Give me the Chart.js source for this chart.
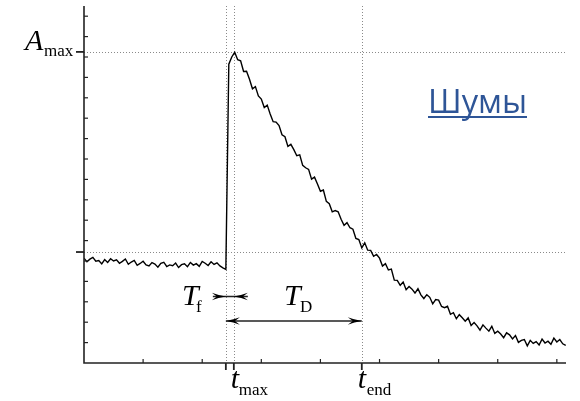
<!DOCTYPE html>
<html><head><meta charset="utf-8">
<script src="https://cdn.jsdelivr.net/npm/chart.js@4/dist/chart.umd.min.js"></script>
<style>html,body{margin:0;padding:0;background:#fff;overflow:hidden}</style>
</head><body>
<canvas id="c" width="580" height="401"></canvas>
<script>
// ---- data ----
// signal sampled at unit time steps (time = sample index)
const signalBase = [51.4,49.6,50.9,51.8,49.9,50.2,48.6,50.7,49.3,51.1,50.0,50.6,48.9,49.8,51.0,48.4,49.5,50.3,47.9,48.8,
  49.9,48.1,47.6,49.2,48.5,47.0,48.9,49.4,47.3,48.1,47.7,49.0,46.8,48.2,48.6,47.2,49.3,48.0,48.7,47.4,
  49.8,48.9,47.8,49.6,48.3,49.1,47.6,46.6,45.9];
const signalPeak = [146.5,150.0,152.3];
const signalDecay = [148.7,148.1,142.9,143.0,139.1,134.4,135.5,130.9,129.4,125.2,126.4,122.1,118.3,118.1,116.4,111.9,
  110.9,106.2,107.2,104.6,101.6,102.0,96.9,95.7,94.9,90.1,91.1,87.7,84.2,84.8,79.2,78.1,74.1,74.7,74.1,70.5,
  67.5,68.8,66.3,65.6,61.1,60.5,56.4,58.9,55.3,55.2,52.3,53.2,51.4,47.5,48.7,45.6,46.0,40.6,40.5,38.1,
  39.7,35.9,37.5,36.2,34.3,36.4,33.4,31.6,33.5,32.2,29.0,31.1,30.8,27.7,27.1,27.8,23.9,24.7,21.7,23.7,
  22.2,20.5,22.1,18.4,19.8,18.2,16.1,18.7,17.1,15.6,18.0,14.5,15.6,14.2,12.4,14.8,13.8,11.8,13.5,10.1,
  11.1,11.5,8.4,11.1,9.6,10.5,8.8,11.7,9.8,10.7,9.2,12.2,10.3,11.5,9.4,8.6];
const refLevels = [152.5, 54.4];          // A_max, baseline
const refTimes = [48, 50.7, 94];          // rise start, t_max, t_end
const yLabels = ['A', 'max'];
const xLabels = [['t','max'], ['t','end']];
const spanLabels = [['T','f'], ['T','D']];
const noteText = 'Шумы';
const xMax = 163.1, yMax = 175, xMinor = 20, yMinor = 10;

const signal = signalBase.concat(signalPeak, signalDecay);
const points = signal.map((v, i) => ({x: i, y: v}));

function arrowHead(ctx, tipX, y, dir) { // dir: +1 points right, -1 points left
  const L = 14, W = 3.8, back = 9;
  ctx.beginPath();
  ctx.moveTo(tipX, y);
  ctx.quadraticCurveTo(tipX - dir * L * 0.55, y - W * 0.35, tipX - dir * L, y - W);
  ctx.lineTo(tipX - dir * back, y);
  ctx.lineTo(tipX - dir * L, y + W);
  ctx.quadraticCurveTo(tipX - dir * L * 0.55, y + W * 0.35, tipX, y);
  ctx.closePath();
  ctx.fill();
}

const decor = {
  id: 'decor',
  beforeDatasetsDraw(chart) {
    const {ctx, chartArea: a, scales: {x, y}} = chart;
    ctx.save();
    ctx.strokeStyle = '#8a8a8a';
    ctx.lineWidth = 1;
    ctx.setLineDash([1, 2]);
    refLevels.forEach(v => {
      const py = Math.round(y.getPixelForValue(v)) + 0.5;
      ctx.beginPath(); ctx.moveTo(a.left, py); ctx.lineTo(a.right, py); ctx.stroke();
    });
    refTimes.forEach(v => {
      const px = Math.round(x.getPixelForValue(v)) + 0.5;
      ctx.beginPath(); ctx.moveTo(px, a.top); ctx.lineTo(px, a.bottom); ctx.stroke();
    });
    ctx.restore();
  },
  afterDatasetsDraw(chart) {
    const {ctx, chartArea: a, scales: {x, y}} = chart;
    ctx.save();
    ctx.strokeStyle = '#222';
    ctx.fillStyle = '#000';
    ctx.lineWidth = 1.6;
    ctx.beginPath();
    ctx.moveTo(a.left, a.top); ctx.lineTo(a.left, a.bottom); ctx.lineTo(a.right, a.bottom);
    ctx.stroke();
    ctx.lineWidth = 1.2;
    for (let v = yMinor; v < yMax; v += yMinor) {
      const py = y.getPixelForValue(v);
      ctx.beginPath(); ctx.moveTo(a.left, py); ctx.lineTo(a.left + 4, py); ctx.stroke();
    }
    for (let v = xMinor; v < xMax; v += xMinor) {
      const px = x.getPixelForValue(v);
      ctx.beginPath(); ctx.moveTo(px, a.bottom); ctx.lineTo(px, a.bottom - 4); ctx.stroke();
    }
    ctx.lineWidth = 1.8;
    refLevels.forEach(v => {
      const py = y.getPixelForValue(v);
      ctx.beginPath(); ctx.moveTo(a.left - 8, py); ctx.lineTo(a.left, py); ctx.stroke();
    });
    refTimes.forEach(v => {
      const px = x.getPixelForValue(v);
      ctx.beginPath(); ctx.moveTo(px, a.bottom); ctx.lineTo(px, a.bottom + 7); ctx.stroke();
    });
    const serif = '"Liberation Serif", "Times New Roman", serif';
    const big = 'italic 30px ' + serif, small = '17px ' + serif;
    ctx.fillStyle = '#000';
    ctx.textBaseline = 'alphabetic';
    ctx.textAlign = 'left';
    const yA = y.getPixelForValue(refLevels[0]);
    ctx.font = big; ctx.fillText(yLabels[0], 25, yA - 2);
    ctx.font = small; ctx.fillText(yLabels[1], 44, yA + 4);
    const pm = x.getPixelForValue(refTimes[1]), pe = x.getPixelForValue(refTimes[2]);
    ctx.font = big; ctx.fillText(xLabels[0][0], pm - 3, 388);
    ctx.font = small; ctx.fillText(xLabels[0][1], pm + 5, 395);
    ctx.font = big; ctx.fillText(xLabels[1][0], pe - 4, 388);
    ctx.font = small; ctx.fillText(xLabels[1][1], pe + 5, 395);
    const pr = x.getPixelForValue(refTimes[0]);
    ctx.lineWidth = 1.3;
    const yf = 296.5, yd = 321;
    ctx.beginPath(); ctx.moveTo(pr - 13, yf); ctx.lineTo(pm + 14, yf); ctx.stroke();
    arrowHead(ctx, pr, yf, 1);
    arrowHead(ctx, pm, yf, -1);
    ctx.beginPath(); ctx.moveTo(pr, yd); ctx.lineTo(pe, yd); ctx.stroke();
    arrowHead(ctx, pr, yd, -1);
    arrowHead(ctx, pe, yd, 1);
    ctx.font = big; ctx.fillText(spanLabels[0][0], 182, 305);
    ctx.font = small; ctx.fillText(spanLabels[0][1], 196, 312);
    ctx.font = big; ctx.fillText(spanLabels[1][0], 284, 305);
    ctx.font = small; ctx.fillText(spanLabels[1][1], 300, 312);
    ctx.fillStyle = '#2E5597';
    ctx.font = '32px "Open Sans", "Noto Sans", sans-serif';
    const w = ctx.measureText(noteText).width;
    ctx.save();
    ctx.translate(428, 113);
    ctx.scale(99 / w, 1);
    ctx.fillText(noteText, 0, 0);
    ctx.restore();
    ctx.fillRect(428, 116, 99, 2);
    ctx.restore();
  }
};

new Chart(document.getElementById('c'), {
  type: 'line',
  data: { datasets: [{ data: points, borderColor: '#000', borderWidth: 1.4, pointRadius: 0, tension: 0, fill: false }] },
  options: {
    responsive: false, animation: false, devicePixelRatio: 1,
    layout: { padding: { left: 84, right: 14, top: 6, bottom: 38 } },
    plugins: { legend: { display: false }, tooltip: { enabled: false } },
    scales: {
      x: { type: 'linear', min: 0, max: xMax, display: false },
      y: { type: 'linear', min: 0, max: yMax, display: false }
    }
  },
  plugins: [decor]
});
</script>
</body></html>
